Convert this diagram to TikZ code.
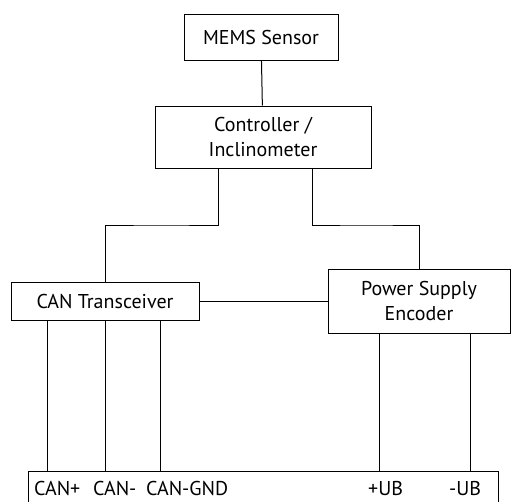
\documentclass[tikz,border=0pt]{standalone}
\usepackage{fontspec}
\setmainfont{PT Sans}
\begin{document}
\begin{tikzpicture}[x=1pt,y=-1pt,
    box/.style = {draw, line width=1pt, align=center, inner sep=0pt,
                  font=\fontsize{20}{25}\selectfont},
    pin/.style = {anchor=base west, inner sep=0pt, font=\fontsize{20}{25}\selectfont},
    wire/.style = {line width=1pt}]
    \useasboundingbox (0,0) rectangle (511,501);
    \node at (261,37)  [box,minimum width=154,minimum height=46] (mems) {MEMS Sensor};
    \node at (263,137) [box,minimum width=216,minimum height=62] (ctrl) {Controller /\\Inclinometer};
    \node at (105,301) [box,minimum width=188,minimum height=38] (can) {CAN Transceiver};
    \node at (419,301) [box,minimum width=182,minimum height=64] (pwr) {Power Supply\\Encoder};
    \node at (263,493) [box,minimum width=470,minimum height=44] (bus) {};
    % pin labels on the connector
    \node at (34,495)  [pin] (canp) {CAN+};
    \node at (93,495)  [pin] (canm) {CAN-};
    \node at (146,495) [pin] (cang) {CAN-GND};
    \node at (368,495) [pin] (ubp) {+UB};
    \node at (449,495) [pin] (ubm) {-UB};
    \coordinate (x1) at (47,0);
    \coordinate (x2) at (105,0);
    \coordinate (x3) at (160,0);
    \coordinate (x4) at (379,0);
    \coordinate (x5) at (470,0);
    \coordinate (c1) at (218,0);
    \coordinate (c2) at (312,0);
    \draw[wire] (mems) -- (ctrl);
    \draw[wire] (ctrl.south -| c1) |- (161,225) -| (can);
    \draw[wire] (ctrl.south -| c2) |- (367,225) -| (pwr);
    \draw[wire] (can) -- (pwr);
    \draw[wire] (can.south -| x1) -- (bus.north -| x1);
    \draw[wire] (can.south -| x2) -- (bus.north -| x2);
    \draw[wire] (can.south -| x3) -- (bus.north -| x3);
    \draw[wire] (pwr.south -| x4) -- (bus.north -| x4);
    \draw[wire] (pwr.south -| x5) -- (bus.north -| x5);
\end{tikzpicture}
\end{document}
